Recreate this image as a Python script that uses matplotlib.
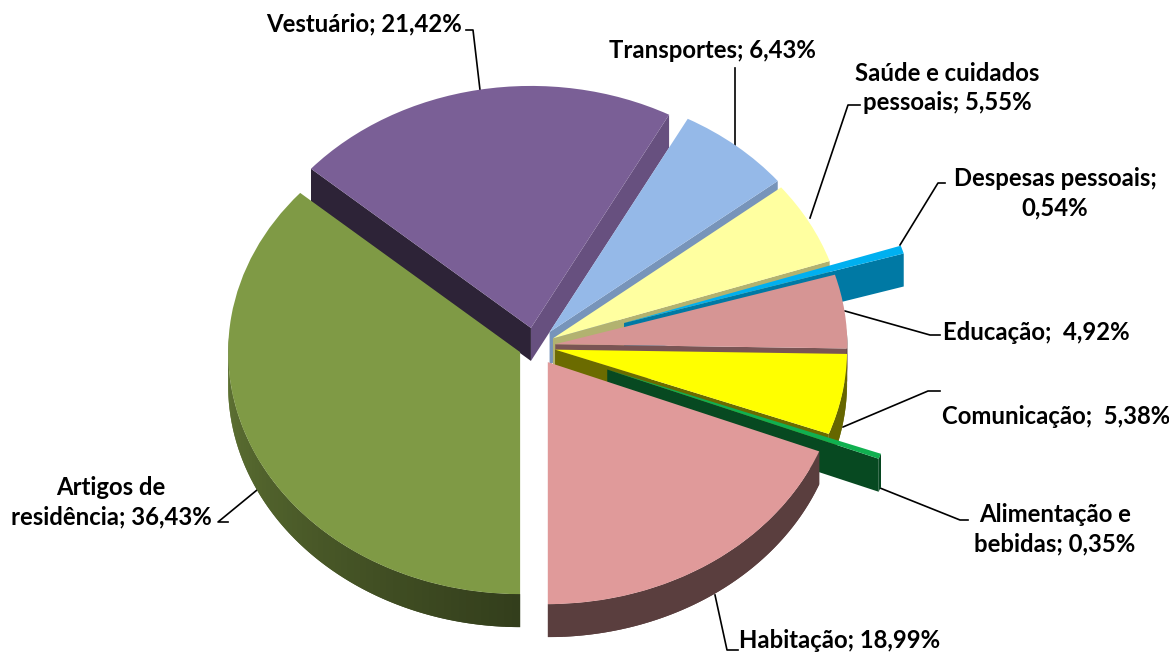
#!/usr/bin/env python3
"""Exploded pseudo-3D pie of household spending categories."""

import numpy as np
import matplotlib
matplotlib.use("Agg")
import matplotlib.pyplot as plt
from matplotlib.colors import to_rgb

categories = ["Habitação", "Alimentação e bebidas", "Comunicação", "Educação",
              "Despesas pessoais", "Saúde e cuidados pessoais", "Transportes",
              "Vestuário", "Artigos de residência"]
values = [18.99, 0.35, 5.38, 4.92, 0.54, 5.55, 6.43, 21.42, 36.43]
colors = ["#e09a9a", "#10b050", "#ffff00", "#d69594", "#00b0f0",
          "#ffffa0", "#95b9e8", "#7a5f96", "#7f9a45"]
explode = [0.078, 0.265, 0.07, 0.07, 0.32, 0.07, 0.078, 0.078, 0.056]

W, H = 1169, 653
CX, CY = 535, 346.5   # pie centre in px
RX, RY = 292, 242     # ellipse radii in px
DEPTH = 33 / RY


def px(x, y):
    return (x - CX) / RX, (CY - y) / RY


def shade(col, k):
    return tuple(c * k for c in to_rgb(col))


def cut_shade(normal):
    a = (normal + 180) % 360 - 180
    return np.interp(a, [-180, -131, -110, -91, -71, -52, 0],
                     [0.3, 0.37, 0.42, 0.57, 0.7, 0.8, 0.9])


def rim_shade(theta):
    t = theta % 360
    if 180 <= t <= 270:
        return 0.4 + 0.35 * (270 - t) / 90
    return 0.4


def draw_walls(ax, w, col, z):
    cx, cy = w.center
    for theta, normal in ((w.theta1, w.theta1 - 90), (w.theta2, w.theta2 + 90)):
        if np.sin(np.radians(normal)) >= -0.01:
            continue
        ex = cx + w.r * np.cos(np.radians(theta))
        ey = cy + w.r * np.sin(np.radians(theta))
        ax.fill([cx, ex, ex, cx], [cy, ey, ey - DEPTH, cy - DEPTH],
                color=shade(col, cut_shade(normal)), lw=0, zorder=z)
    # outer rim, split up so the shade can change along the arc;
    # each piece runs a bit into the next one so no seams show
    n = max(2, int((w.theta2 - w.theta1) / 1.5))
    t = np.linspace(w.theta1, w.theta2, n + 1)
    step = t[1] - t[0]
    for a, b in zip(t[:-1], t[1:]):
        if np.sin(np.radians((a + b) / 2)) > 0.05:
            continue
        end = min(b + step, w.theta2)
        arc = np.radians(np.linspace(a, end, 6))
        xs = cx + w.r * np.cos(arc)
        ys = cy + w.r * np.sin(arc)
        ax.fill(np.r_[xs, xs[::-1]], np.r_[ys, ys[::-1] - DEPTH],
                color=shade(col, rim_shade((a + b) / 2)), lw=0, zorder=z + 1)


def main():
    plt.rcParams["font.family"] = ["Lato", "DejaVu Sans"]
    fig = plt.figure(figsize=(W / 100, H / 100), dpi=100)
    ax = fig.add_axes([0, 0, 1, 1])

    wedges, _ = ax.pie(values, explode=explode, colors=colors, startangle=270,
                       counterclock=True, frame=True)
    ax.set_aspect("auto")
    ax.set_xlim(px(0, 0)[0], px(W, 0)[0])
    ax.set_ylim(px(0, H)[1], px(0, 0)[1])
    ax.axis("off")

    # back slices first
    mid = [np.radians((w.theta1 + w.theta2) / 2) for w in wedges]
    order = sorted(range(len(wedges)), key=lambda i: -np.sin(mid[i]))
    for rank, i in enumerate(order):
        z = 10 + rank * 5
        draw_walls(ax, wedges[i], colors[i], z)
        wedges[i].set_zorder(z + 2)

    leaders = [
        [(466, 30), (473, 30), (480, 90)],
        [(735, 68), (735, 145)],
        [(860, 105), (848, 105), (810, 218)],
        [(945, 183), (938, 183), (900, 245)],
        [(940, 335), (930, 335), (845, 311)],
        [(940, 391), (928, 391), (843, 427)],
        [(968, 520), (960, 520), (880, 488)],
        [(738, 650), (727, 650), (715, 595)],
        [(228, 522), (218, 522), (257, 490)],
    ]
    for pts in leaders:
        xy = [px(*p) for p in pts]
        ax.plot(*zip(*xy), color="black", lw=1.2, zorder=3)

    labels = [
        (364, 24, "Vestuário; 21,42%"),
        (712, 50, "Transportes; 6,43%"),
        (947, 88, "Saúde e cuidados\npessoais; 5,55%"),
        (1055, 193, "Despesas pessoais;\n0,54%"),
        (1036, 332, "Educação;  4,92%"),
        (1056, 416, "Comunicação;  5,38%"),
        (1055, 529, "Alimentação e\nbebidas; 0,35%"),
        (840, 640, "Habitação; 18,99%"),
        (111, 502, "Artigos de\nresidência; 36,43%"),
    ]
    for x, y, s in labels:
        ax.text(*px(x, y), s, ha="center", va="center", fontsize=17.2,
                fontweight="bold", color="black", linespacing=1.35, zorder=100)

    fig.savefig("out.png", dpi=100)


if __name__ == "__main__":
    main()
